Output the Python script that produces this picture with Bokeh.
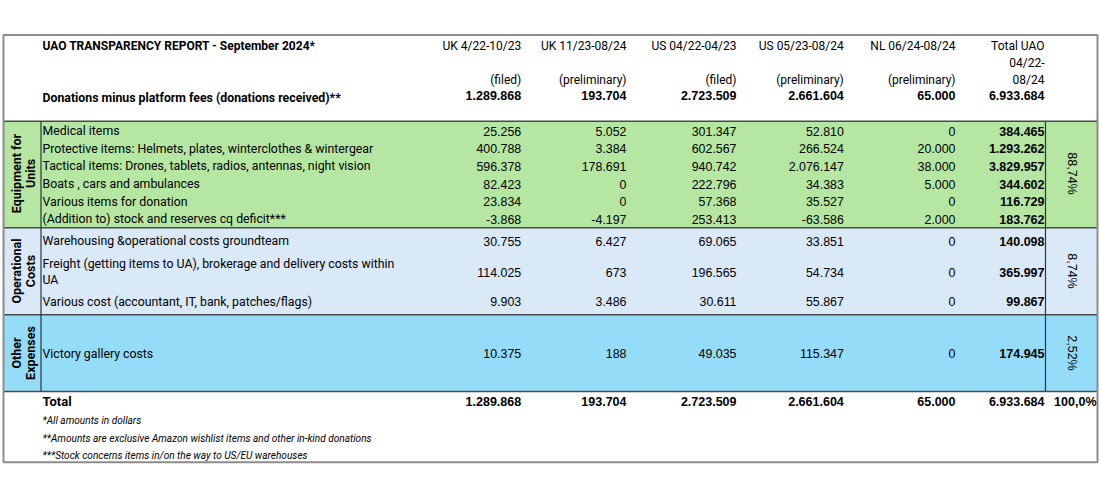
import math
from bokeh.plotting import figure
from bokeh.models import Range1d, ColumnDataSource
from bokeh.core.properties import value
from bokeh.embed import file_html
from bokeh.resources import INLINE

# ---------------- data ----------------
title = "UAO TRANSPARENCY REPORT - September 2024*"
col_headers = ["UK 4/22-10/23", "UK 11/23-08/24", "US 04/22-04/23", "US 05/23-08/24", "NL 06/24-08/24"]
col_status = ["(filed)", "(preliminary)", "(filed)", "(preliminary)", "(preliminary)"]
total_header = ["Total UAO", "04/22-", "08/24"]
donations_label = "Donations minus platform fees (donations received)**"
donations = [1289868, 193704, 2723509, 2661604, 65000, 6933684]

group_lines = [["Equipment for", "Units"], ["Operational", "Costs"], ["Other", "Expenses"]]
group_pct = ["88,74%", "8,74%", "2,52%"]

items = [
    "Medical items",
    "Protective items: Helmets, plates, winterclothes & wintergear",
    "Tactical items: Drones, tablets, radios, antennas, night vision",
    "Boats , cars and ambulances",
    "Various items for donation",
    "(Addition to) stock and reserves cq deficit***",
    "Warehousing &operational costs groundteam",
    "Freight (getting items to UA), brokerage and delivery costs within UA",
    "Various cost (accountant, IT, bank, patches/flags)",
    "Victory gallery costs",
]
item_group = [0, 0, 0, 0, 0, 0, 1, 1, 1, 2]
uk_2022 = [25256, 400788, 596378, 82423, 23834, -3868, 30755, 114025, 9903, 10375]
uk_2023 = [5052, 3384, 178691, 0, 0, -4197, 6427, 673, 3486, 188]
us_2022 = [301347, 602567, 940742, 222796, 57368, 253413, 69065, 196565, 30611, 49035]
us_2023 = [52810, 266524, 2076147, 34383, 35527, -63586, 33851, 54734, 55867, 115347]
nl_2024 = [0, 20000, 38000, 5000, 0, 2000, 0, 0, 0, 0]
total_uao = [384465, 1293262, 3829957, 344602, 116729, 183762, 140098, 365997, 99867, 174945]

total_label = "Total"
total_values = [1289868, 193704, 2723509, 2661604, 65000, 6933684]
total_pct = "100,0%"

footnotes = [
    "*All amounts in dollars",
    "**Amounts are exclusive Amazon wishlist items and other in-kind donations",
    "***Stock concerns items in/on the way to US/EU warehouses",
]

# ---------------- layout ----------------
def fmt(v):
    return f"{v:,}".replace(",", ".")

band_colors = ["#b5e6a2", "#dae9f8", "#94dcf8"]
band_edges = [120.7, 227.3, 314.3, 391.0]
col_right = [520.7, 626.0, 736.0, 843.3, 955.0, 1044.0]
label_x = 42.0
row_y = [130.7, 148.3, 165.9, 183.5, 201.1, 218.7, 240.7, 271.5, 301.0, 353.0]
group_y = [173.0, 270.5, 352.5]

LEFT, RIGHT, TOP, BOTTOM = 3.0, 1097.0, 34.5, 461.7
CAT_X, PCT_X = 40.5, 1045.0

p = figure(width=1100, height=497, x_range=Range1d(0, 1100), y_range=Range1d(497, 0),
           output_backend="svg", toolbar_location=None, min_border=0)
p.axis.visible = False
p.grid.visible = False
p.outline_line_color = None
p.background_fill_color = "white"
p.border_fill_color = "white"

# bands
p.quad(left=[LEFT] * 3, right=[RIGHT] * 3, top=band_edges[:3], bottom=band_edges[1:],
       fill_color=band_colors, line_color=None)

# lines
p.segment(x0=[LEFT] * 4, x1=[RIGHT] * 4, y0=band_edges, y1=band_edges,
          line_color="#4a4a4a", line_width=1.6)
p.segment(x0=[CAT_X, PCT_X], x1=[CAT_X, PCT_X], y0=[band_edges[0]] * 2, y1=[band_edges[-1]] * 2,
          line_color="#333333", line_width=1.2)
p.quad(left=[LEFT], right=[RIGHT], top=[TOP], bottom=[BOTTOM], fill_color=None,
       line_color="#8c8c8c", line_width=2)

LABEL_FONT = "Roboto"
NUM_FONT = "Liberation Sans"


def add_text(xs, ys, texts, font, size, style="normal", align="left", angle=0.0, baseline="middle"):
    src = ColumnDataSource(dict(x=xs, y=ys, text=texts))
    p.text(x="x", y="y", text="text", source=src, text_font=value(font),
           text_font_size=f"{size}px", text_font_style=style, text_align=align,
           text_baseline=baseline, angle=angle, text_color="#000000")


# header
add_text([label_x], [45], [title], LABEL_FONT, 12, "bold")
add_text(col_right[:5], [45] * 5, col_headers, LABEL_FONT, 12, align="right")
add_text([col_right[5]] * 3, [45, 62, 79], total_header, LABEL_FONT, 12, align="right")
add_text(col_right[:5], [79] * 5, col_status, LABEL_FONT, 12, align="right")
add_text([label_x], [97], [donations_label], LABEL_FONT, 12.3, "bold")
add_text(col_right, [95] * 6, [fmt(v) for v in donations], NUM_FONT, 12.5, "bold", "right")

# item labels
lx, ly, lt = [], [], []
for i, lab in enumerate(items):
    if i == 7:
        a, b = lab.rsplit(" ", 1)
        lx += [label_x, label_x]; ly += [row_y[i] - 8.2, row_y[i] + 7.8]; lt += [a, b]
    else:
        lx.append(label_x); ly.append(row_y[i]); lt.append(lab)
add_text(lx, ly, lt, LABEL_FONT, 12.3)

# values
series = [uk_2022, uk_2023, us_2022, us_2023, nl_2024]
vx, vy, vt = [], [], []
for c, s in enumerate(series):
    for i, v in enumerate(s):
        vx.append(col_right[c]); vy.append(row_y[i]); vt.append(fmt(v))
add_text(vx, vy, vt, NUM_FONT, 12.4, align="right")
add_text([col_right[5]] * len(total_uao), row_y, [fmt(v) for v in total_uao], NUM_FONT, 12.5, "bold", "right")

# group labels (rotated)
gx, gy, gt = [], [], []
for g, lines in enumerate(group_lines):
    gx += [16.0, 30.0]; gy += [group_y[g]] * 2; gt += lines
add_text(gx, gy, gt, LABEL_FONT, 12.5, "bold", "center", math.pi / 2)
add_text([1071.5] * 3, group_y, group_pct, NUM_FONT, 12.5, "normal", "center", -math.pi / 2)

# total row
add_text([label_x], [401], [total_label], LABEL_FONT, 13, "bold")
add_text(col_right, [401] * 6, [fmt(v) for v in total_values], NUM_FONT, 12.5, "bold", "right")
add_text([1096.0], [401], [total_pct], NUM_FONT, 12.5, "bold", "right")

# footnotes
add_text([label_x] * 3, [420, 437.5, 455], footnotes, LABEL_FONT, 10.1, "italic")

open("out.html", "w").write(file_html(p, INLINE))
